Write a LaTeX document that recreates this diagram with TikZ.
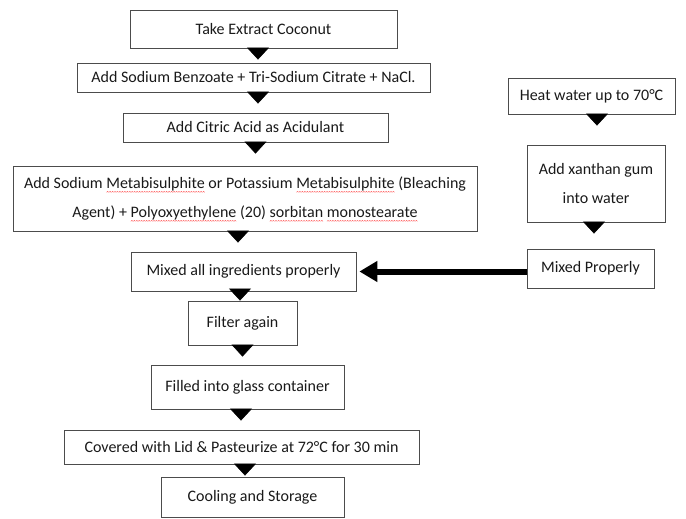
\documentclass[tikz,border=0pt]{standalone}
\usepackage{fontspec}
\setmainfont{Carlito}
\usetikzlibrary{arrows.meta}
\newsavebox\spellbox
\newcommand\wavebit{\tikz[x=1pt,y=1pt,baseline=0pt]{\draw[red!65,line width=0.45pt,line cap=round] (0,0) -- (1,0.9) -- (2,0);}}
\newcommand\spellwave[1]{\sbox\spellbox{#1}\rlap{\raisebox{-3.8pt}[0pt][0pt]{\hbox to \wd\spellbox{\xleaders\hbox{\wavebit}\hfill}}}\usebox\spellbox}
\begin{document}
\begin{tikzpicture}[x=1pt,y=-1pt,
  box/.style={draw=black!70, line width=0.8pt, inner sep=0pt, align=center,
    font=\fontsize{16}{29}\selectfont, text=black!90},
  tri/.style={draw=black, line width=0.5pt, -{Triangle[length=12pt,width=22pt]}, shorten >=#1},
  bigarrow/.style={draw=black, line width=6pt, -{Triangle[length=18pt,width=20pt]}, shorten >=3pt}]
\useasboundingbox (0,0) rectangle (686,519);
% main column
\node[box, minimum width=267pt, minimum height=38pt] (s1) at (263.5,29) {Take Extract Coconut};
\node[box, minimum width=353pt, minimum height=29pt] (s2) at (253.5,77.5) {Add Sodium Benzoate + Tri-Sodium Citrate + NaCl.};
\node[box, minimum width=265pt, minimum height=29pt] (s3) at (255.5,127.5) {Add Citric Acid as Acidulant};
\node[box, minimum width=464pt, minimum height=65pt] (s4) at (245,198.5) {Add Sodium \spellwave{Metabisulphite} or Potassium \spellwave{Metabisulphite} (Bleaching\\Agent) + \spellwave{Polyoxyethylene} (20) \spellwave{sorbitan} \spellwave{monostearate}};
\node[box, minimum width=225pt, minimum height=39pt] (s5) at (243.5,271.5) {Mixed all ingredients properly};
\node[box, minimum width=109pt, minimum height=44pt] (s6) at (242.5,323) {Filter again};
\node[box, minimum width=193pt, minimum height=44pt] (s7) at (247.5,387) {Filled into glass container};
\node[box, minimum width=355pt, minimum height=34pt] (s8) at (241.5,447) {Covered with Lid \& Pasteurize at 72°C for 30 min};
\node[box, minimum width=183pt, minimum height=40pt] (s9) at (252.5,497) {Cooling and Storage};
% right column
\node[box, minimum width=167pt, minimum height=36pt] (r1) at (591.5,96) {Heat water up to 70°C};
\node[box, minimum width=138pt, minimum height=77pt] (r2) at (596,183.5) {Add xanthan gum\\into water};
\node[box, minimum width=127pt, minimum height=39pt] (r3) at (590.5,268.5) {Mixed Properly};
% connectors
\draw[tri=3pt] ([xshift=-5.5pt]s1.south) -- ([xshift=-5.5pt]s1.south |- s2.north);
\draw[tri=9pt] ([xshift=4.5pt]s2.south) -- ([xshift=4.5pt]s2.south |- s3.north);
\draw[tri=12pt] (s3.south) -- (s3.south |- s4.north);
\draw[tri=9pt] ([xshift=-7pt]s4.south) -- ([xshift=-7pt]s4.south |- s5.north);
\draw[tri=0pt] ([xshift=-3.5pt]s5.south) -- ([xshift=-3.5pt]s5.south |- s6.north);
\draw[tri=8pt] (s6.south) -- (s6.south |- s7.north);
\draw[tri=9pt] ([xshift=-6.5pt]s7.south) -- ([xshift=-6.5pt]s7.south |- s8.north);
\draw[tri=1pt] ([xshift=3.5pt]s8.south) -- ([xshift=3.5pt]s8.south |- s9.north);
\draw[tri=19pt] ([xshift=5.5pt]r1.south) -- ([xshift=5.5pt]r1.south |- r2.north);
\draw[tri=15pt] ([xshift=-2pt]r2.south) -- ([xshift=-2pt]r2.south |- r3.north);
\draw[bigarrow] (r3.west |- s5.east) -- (s5.east);
\end{tikzpicture}
\end{document}
